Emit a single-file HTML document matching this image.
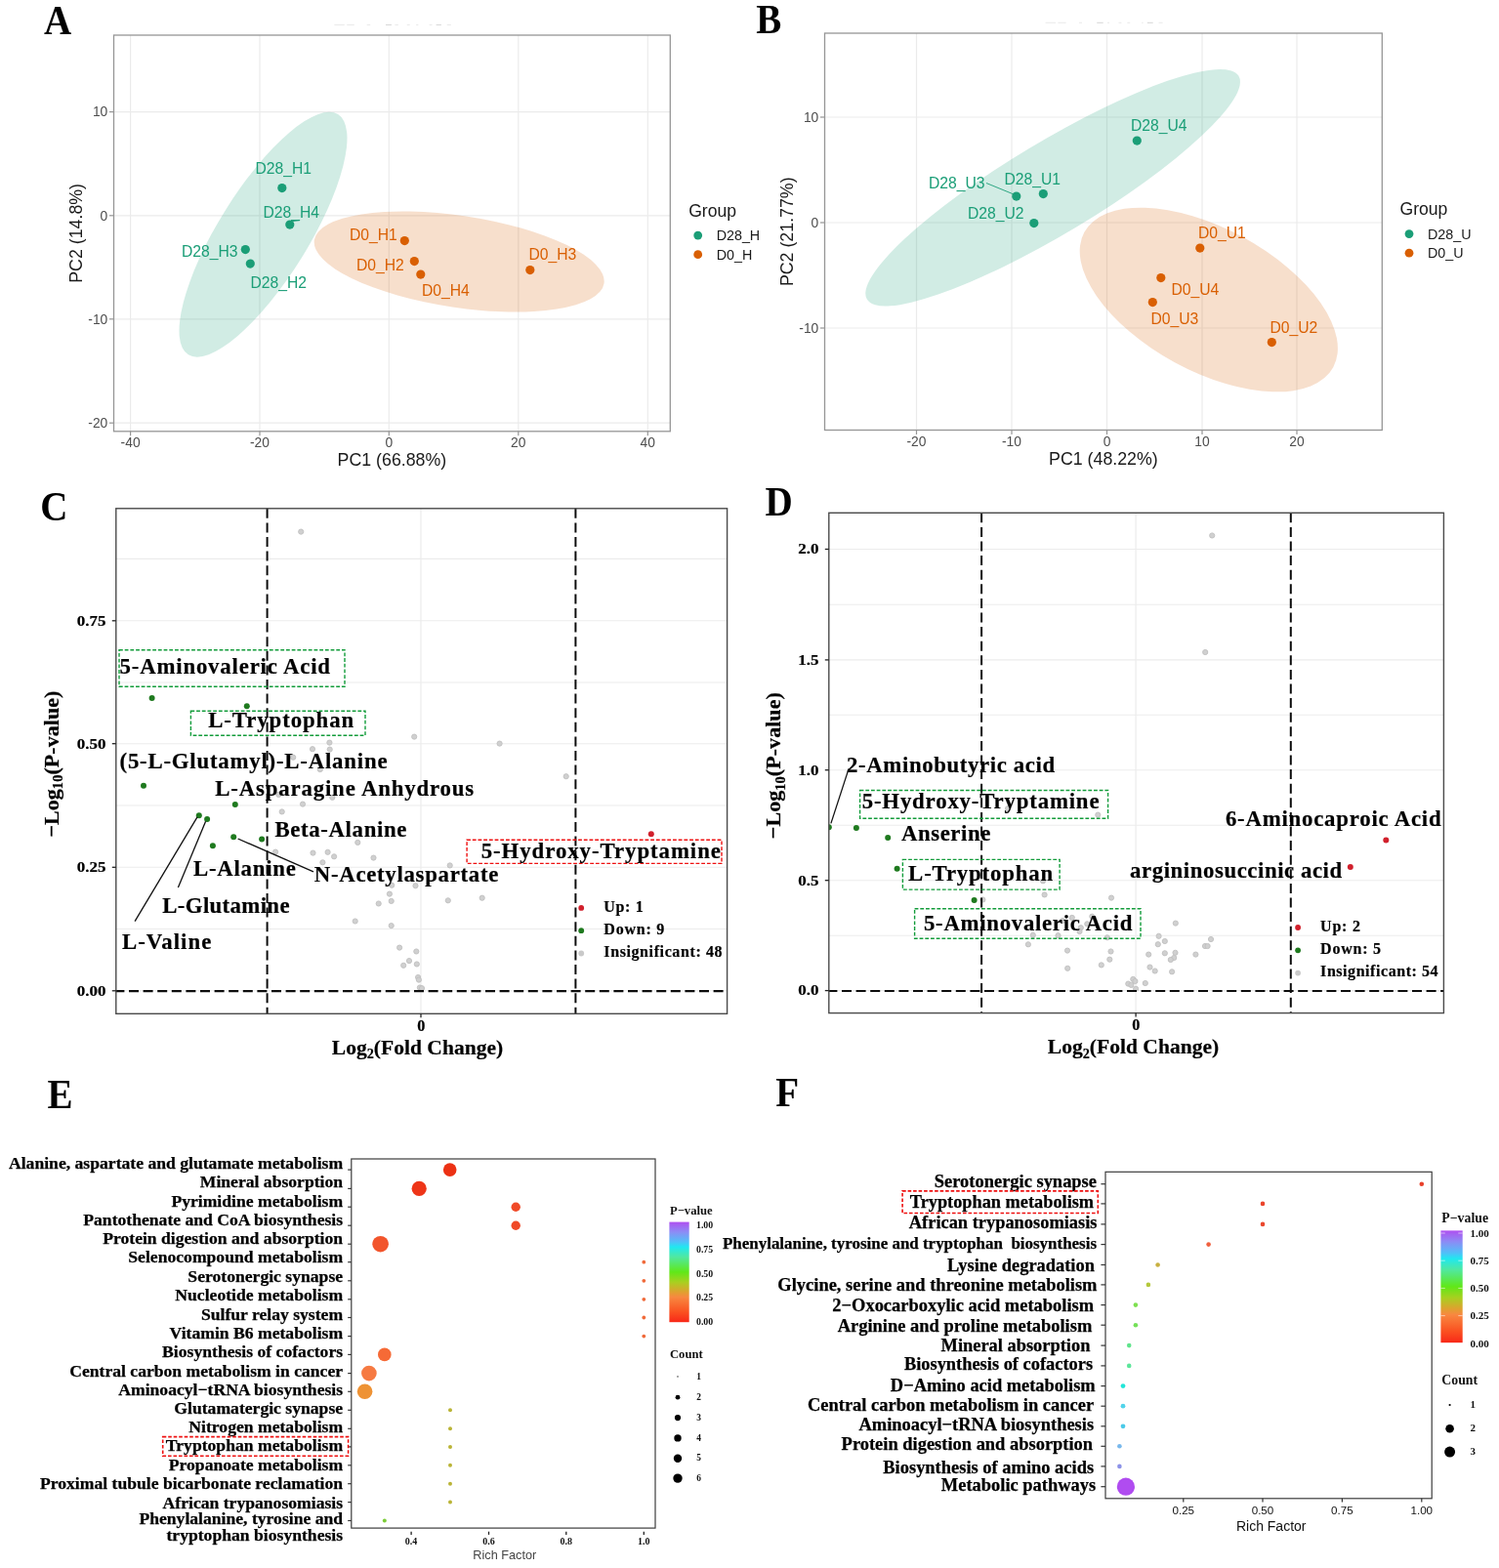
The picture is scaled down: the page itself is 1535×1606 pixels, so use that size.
<!DOCTYPE html>
<html lang="en">
<head>
<meta charset="utf-8">
<title>Figure</title>
<style>
html,body{margin:0;padding:0;background:#fff;}
body{width:1535px;height:1606px;overflow:hidden;}
svg{display:block;}
text{font-family:"Liberation Sans",sans-serif;}
.sf{font-family:"Liberation Serif",serif;font-weight:bold;}
.ss{font-family:"Liberation Sans",sans-serif;}
.pl{font-family:"Liberation Serif",serif;font-weight:bold;font-size:42px;fill:#000;}
</style>
</head>
<body>
<svg width="1535" height="1606" viewBox="0 0 1535 1606">
<rect x="0" y="0" width="1535" height="1606" fill="#fff"/>
<line x1="342.3" y1="25.5" x2="352.8" y2="25.5" stroke="#ebebeb" stroke-width="1.1"/>
<line x1="355.2" y1="25.5" x2="362.8" y2="25.5" stroke="#ebebeb" stroke-width="1.1"/>
<line x1="375.7" y1="25.5" x2="379.2" y2="25.5" stroke="#ebebeb" stroke-width="1.1"/>
<line x1="395" y1="25.5" x2="400.9" y2="25.5" stroke="#d9d9d9" stroke-width="1.1"/>
<line x1="404.4" y1="25.5" x2="407.9" y2="25.5" stroke="#ebebeb" stroke-width="1.1"/>
<line x1="416.7" y1="25.5" x2="419.7" y2="25.5" stroke="#ebebeb" stroke-width="1.1"/>
<line x1="426.1" y1="25.5" x2="428.4" y2="25.5" stroke="#ebebeb" stroke-width="1.1"/>
<line x1="439.6" y1="25.5" x2="442.5" y2="25.5" stroke="#ebebeb" stroke-width="1.1"/>
<line x1="446.6" y1="25.5" x2="451.9" y2="25.5" stroke="#d9d9d9" stroke-width="1.1"/>
<line x1="457.7" y1="25.5" x2="461.9" y2="25.5" stroke="#ebebeb" stroke-width="1.1"/>
<g>
<line x1="133.6" y1="36" x2="133.6" y2="441.8" stroke="#ebebeb" stroke-width="1.2"/>
<line x1="266" y1="36" x2="266" y2="441.8" stroke="#ebebeb" stroke-width="1.2"/>
<line x1="398.3" y1="36" x2="398.3" y2="441.8" stroke="#ebebeb" stroke-width="1.2"/>
<line x1="530.8" y1="36" x2="530.8" y2="441.8" stroke="#ebebeb" stroke-width="1.2"/>
<line x1="663.3" y1="36" x2="663.3" y2="441.8" stroke="#ebebeb" stroke-width="1.2"/>
<line x1="116.5" y1="114.6" x2="686.3" y2="114.6" stroke="#ebebeb" stroke-width="1.2"/>
<line x1="116.5" y1="220.8" x2="686.3" y2="220.8" stroke="#ebebeb" stroke-width="1.2"/>
<line x1="116.5" y1="326.8" x2="686.3" y2="326.8" stroke="#ebebeb" stroke-width="1.2"/>
<line x1="116.5" y1="433.2" x2="686.3" y2="433.2" stroke="#ebebeb" stroke-width="1.2"/>
<ellipse cx="269.5" cy="240.2" rx="145" ry="46" transform="rotate(-58.1 269.5 240.2)" fill="#1b9e77" fill-opacity="0.2"/>
<ellipse cx="470.2" cy="268" rx="150" ry="47" transform="rotate(8.5 470.2 268)" fill="#d95f02" fill-opacity="0.2"/>
<line x1="297" y1="227" x2="307" y2="225.5" stroke="#1b9e77" stroke-width="0.9"/>
<circle cx="288.8" cy="192.6" r="4.6" fill="#1b9e77"/>
<circle cx="296.8" cy="230.1" r="4.6" fill="#1b9e77"/>
<circle cx="251.3" cy="255.6" r="4.6" fill="#1b9e77"/>
<circle cx="256.3" cy="270.1" r="4.6" fill="#1b9e77"/>
<circle cx="414.3" cy="246.6" r="4.6" fill="#d95f02"/>
<circle cx="424.3" cy="267.6" r="4.6" fill="#d95f02"/>
<circle cx="430.8" cy="281.1" r="4.6" fill="#d95f02"/>
<circle cx="542.8" cy="276.6" r="4.6" fill="#d95f02"/>
<text x="261.5" y="178.2" font-size="15.7" fill="#1b9e77">D28_H1</text>
<text x="269.5" y="223.2" font-size="15.7" fill="#1b9e77">D28_H4</text>
<text x="186" y="262.7" font-size="15.7" fill="#1b9e77">D28_H3</text>
<text x="256.5" y="295.2" font-size="15.7" fill="#1b9e77">D28_H2</text>
<text x="358" y="245.7" font-size="15.7" fill="#d95f02">D0_H1</text>
<text x="365" y="277.2" font-size="15.7" fill="#d95f02">D0_H2</text>
<text x="432" y="303.2" font-size="15.7" fill="#d95f02">D0_H4</text>
<text x="541.5" y="266.2" font-size="15.7" fill="#d95f02">D0_H3</text>
<rect x="116.5" y="36" width="569.8" height="405.8" fill="none" stroke="#969696" stroke-width="1.3"/>
<line x1="133.6" y1="441.8" x2="133.6" y2="446.3" stroke="#969696" stroke-width="1.2"/>
<text x="133.6" y="458.3" text-anchor="middle" font-size="13.8" fill="#4d4d4d">-40</text>
<line x1="266" y1="441.8" x2="266" y2="446.3" stroke="#969696" stroke-width="1.2"/>
<text x="266" y="458.3" text-anchor="middle" font-size="13.8" fill="#4d4d4d">-20</text>
<line x1="398.3" y1="441.8" x2="398.3" y2="446.3" stroke="#969696" stroke-width="1.2"/>
<text x="398.3" y="458.3" text-anchor="middle" font-size="13.8" fill="#4d4d4d">0</text>
<line x1="530.8" y1="441.8" x2="530.8" y2="446.3" stroke="#969696" stroke-width="1.2"/>
<text x="530.8" y="458.3" text-anchor="middle" font-size="13.8" fill="#4d4d4d">20</text>
<line x1="663.3" y1="441.8" x2="663.3" y2="446.3" stroke="#969696" stroke-width="1.2"/>
<text x="663.3" y="458.3" text-anchor="middle" font-size="13.8" fill="#4d4d4d">40</text>
<line x1="112" y1="114.6" x2="116.5" y2="114.6" stroke="#969696" stroke-width="1.2"/>
<text x="110.3" y="119.3" text-anchor="end" font-size="13.8" fill="#4d4d4d">10</text>
<line x1="112" y1="220.8" x2="116.5" y2="220.8" stroke="#969696" stroke-width="1.2"/>
<text x="110.3" y="225.5" text-anchor="end" font-size="13.8" fill="#4d4d4d">0</text>
<line x1="112" y1="326.8" x2="116.5" y2="326.8" stroke="#969696" stroke-width="1.2"/>
<text x="110.3" y="331.5" text-anchor="end" font-size="13.8" fill="#4d4d4d">-10</text>
<line x1="112" y1="433.2" x2="116.5" y2="433.2" stroke="#969696" stroke-width="1.2"/>
<text x="110.3" y="437.9" text-anchor="end" font-size="13.8" fill="#4d4d4d">-20</text>
<text x="401.4" y="477.3" text-anchor="middle" font-size="17.8" fill="#1a1a1a">PC1 (66.88%)</text>
<text transform="translate(83.5 238.9) rotate(-90)" text-anchor="middle" font-size="17.8" fill="#1a1a1a">PC2 (14.8%)</text>
<text x="705.2" y="221.5" font-size="17.6" fill="#1a1a1a">Group</text>
<circle cx="714.7" cy="241.1" r="4.4" fill="#1b9e77"/>
<text x="733.7" y="246.3" font-size="14.3" fill="#1a1a1a">D28_H</text>
<circle cx="714.7" cy="260.7" r="4.4" fill="#d95f02"/>
<text x="733.7" y="265.9" font-size="14.3" fill="#1a1a1a">D0_H</text>
<text transform="translate(45 34.8) scale(0.93 1)" class="pl">A</text>
</g>
<line x1="1070.5" y1="23.3" x2="1081" y2="23.3" stroke="#ebebeb" stroke-width="1.1"/>
<line x1="1083.4" y1="23.3" x2="1091.6" y2="23.3" stroke="#ebebeb" stroke-width="1.1"/>
<line x1="1105" y1="23.3" x2="1108" y2="23.3" stroke="#ebebeb" stroke-width="1.1"/>
<line x1="1123.2" y1="23.3" x2="1129.7" y2="23.3" stroke="#d9d9d9" stroke-width="1.1"/>
<line x1="1133.8" y1="23.3" x2="1136.1" y2="23.3" stroke="#ebebeb" stroke-width="1.1"/>
<line x1="1145.5" y1="23.3" x2="1148.4" y2="23.3" stroke="#ebebeb" stroke-width="1.1"/>
<line x1="1154.3" y1="23.3" x2="1157.2" y2="23.3" stroke="#ebebeb" stroke-width="1.1"/>
<line x1="1169" y1="23.3" x2="1170.7" y2="23.3" stroke="#ebebeb" stroke-width="1.1"/>
<line x1="1174.8" y1="23.3" x2="1180.7" y2="23.3" stroke="#d9d9d9" stroke-width="1.1"/>
<line x1="1186.5" y1="23.3" x2="1190.6" y2="23.3" stroke="#ebebeb" stroke-width="1.1"/>
<g>
<line x1="938.5" y1="34" x2="938.5" y2="440.5" stroke="#ebebeb" stroke-width="1.2"/>
<line x1="1036" y1="34" x2="1036" y2="440.5" stroke="#ebebeb" stroke-width="1.2"/>
<line x1="1133.5" y1="34" x2="1133.5" y2="440.5" stroke="#ebebeb" stroke-width="1.2"/>
<line x1="1231" y1="34" x2="1231" y2="440.5" stroke="#ebebeb" stroke-width="1.2"/>
<line x1="1328" y1="34" x2="1328" y2="440.5" stroke="#ebebeb" stroke-width="1.2"/>
<line x1="844.5" y1="120" x2="1415.3" y2="120" stroke="#ebebeb" stroke-width="1.2"/>
<line x1="844.5" y1="228" x2="1415.3" y2="228" stroke="#ebebeb" stroke-width="1.2"/>
<line x1="844.5" y1="336" x2="1415.3" y2="336" stroke="#ebebeb" stroke-width="1.2"/>
<ellipse cx="1078.1" cy="192.2" rx="222" ry="47" transform="rotate(-31 1078.1 192.2)" fill="#1b9e77" fill-opacity="0.2"/>
<ellipse cx="1237.8" cy="307" rx="145" ry="73" transform="rotate(28.5 1237.8 307)" fill="#d95f02" fill-opacity="0.2"/>
<line x1="1010" y1="187.5" x2="1038" y2="199" stroke="#1b9e77" stroke-width="0.9"/>
<circle cx="1164.3" cy="144.1" r="4.6" fill="#1b9e77"/>
<circle cx="1040.8" cy="201.1" r="4.6" fill="#1b9e77"/>
<circle cx="1068.3" cy="198.6" r="4.6" fill="#1b9e77"/>
<circle cx="1058.8" cy="228.6" r="4.6" fill="#1b9e77"/>
<circle cx="1228.8" cy="254.1" r="4.6" fill="#d95f02"/>
<circle cx="1188.8" cy="284.6" r="4.6" fill="#d95f02"/>
<circle cx="1180.3" cy="309.6" r="4.6" fill="#d95f02"/>
<circle cx="1302.3" cy="350.6" r="4.6" fill="#d95f02"/>
<text x="1158" y="133.7" font-size="15.7" fill="#1b9e77">D28_U4</text>
<text x="1028.5" y="188.7" font-size="15.7" fill="#1b9e77">D28_U1</text>
<text x="951" y="192.7" font-size="15.7" fill="#1b9e77">D28_U3</text>
<text x="991" y="223.7" font-size="15.7" fill="#1b9e77">D28_U2</text>
<text x="1227" y="244.2" font-size="15.7" fill="#d95f02">D0_U1</text>
<text x="1199.5" y="301.7" font-size="15.7" fill="#d95f02">D0_U4</text>
<text x="1178.5" y="331.7" font-size="15.7" fill="#d95f02">D0_U3</text>
<text x="1300.5" y="340.7" font-size="15.7" fill="#d95f02">D0_U2</text>
<rect x="844.5" y="34" width="570.8" height="406.5" fill="none" stroke="#969696" stroke-width="1.3"/>
<line x1="938.5" y1="440.5" x2="938.5" y2="445" stroke="#969696" stroke-width="1.2"/>
<text x="938.5" y="457" text-anchor="middle" font-size="13.8" fill="#4d4d4d">-20</text>
<line x1="1036" y1="440.5" x2="1036" y2="445" stroke="#969696" stroke-width="1.2"/>
<text x="1036" y="457" text-anchor="middle" font-size="13.8" fill="#4d4d4d">-10</text>
<line x1="1133.5" y1="440.5" x2="1133.5" y2="445" stroke="#969696" stroke-width="1.2"/>
<text x="1133.5" y="457" text-anchor="middle" font-size="13.8" fill="#4d4d4d">0</text>
<line x1="1231" y1="440.5" x2="1231" y2="445" stroke="#969696" stroke-width="1.2"/>
<text x="1231" y="457" text-anchor="middle" font-size="13.8" fill="#4d4d4d">10</text>
<line x1="1328" y1="440.5" x2="1328" y2="445" stroke="#969696" stroke-width="1.2"/>
<text x="1328" y="457" text-anchor="middle" font-size="13.8" fill="#4d4d4d">20</text>
<line x1="840" y1="120" x2="844.5" y2="120" stroke="#969696" stroke-width="1.2"/>
<text x="838.3" y="124.7" text-anchor="end" font-size="13.8" fill="#4d4d4d">10</text>
<line x1="840" y1="228" x2="844.5" y2="228" stroke="#969696" stroke-width="1.2"/>
<text x="838.3" y="232.7" text-anchor="end" font-size="13.8" fill="#4d4d4d">0</text>
<line x1="840" y1="336" x2="844.5" y2="336" stroke="#969696" stroke-width="1.2"/>
<text x="838.3" y="340.7" text-anchor="end" font-size="13.8" fill="#4d4d4d">-10</text>
<text x="1129.9" y="476" text-anchor="middle" font-size="17.8" fill="#1a1a1a">PC1 (48.22%)</text>
<text transform="translate(812 237.25) rotate(-90)" text-anchor="middle" font-size="17.8" fill="#1a1a1a">PC2 (21.77%)</text>
<text x="1433.5" y="220" font-size="17.6" fill="#1a1a1a">Group</text>
<circle cx="1443" cy="239.6" r="4.4" fill="#1b9e77"/>
<text x="1462" y="244.8" font-size="14.3" fill="#1a1a1a">D28_U</text>
<circle cx="1443" cy="259.2" r="4.4" fill="#d95f02"/>
<text x="1462" y="264.4" font-size="14.3" fill="#1a1a1a">D0_U</text>
<text transform="translate(774.2 33.8) scale(0.93 1)" class="pl">B</text>
</g>
<g>
<line x1="118.8" y1="572.4" x2="744.6" y2="572.4" stroke="#ececec" stroke-width="1.1"/>
<line x1="118.8" y1="699" x2="744.6" y2="699" stroke="#ececec" stroke-width="1.1"/>
<line x1="118.8" y1="825" x2="744.6" y2="825" stroke="#ececec" stroke-width="1.1"/>
<line x1="118.8" y1="951.5" x2="744.6" y2="951.5" stroke="#ececec" stroke-width="1.1"/>
<line x1="118.8" y1="635.8" x2="744.6" y2="635.8" stroke="#ececec" stroke-width="1.1"/>
<line x1="118.8" y1="761.7" x2="744.6" y2="761.7" stroke="#ececec" stroke-width="1.1"/>
<line x1="118.8" y1="888.3" x2="744.6" y2="888.3" stroke="#ececec" stroke-width="1.1"/>
<line x1="118.8" y1="1014.8" x2="744.6" y2="1014.8" stroke="#ececec" stroke-width="1.1"/>
<line x1="431" y1="520.8" x2="431" y2="1038.3" stroke="#ececec" stroke-width="1.2"/>
<circle cx="308.2" cy="544.6" r="2.6" fill="#d0d0d0" stroke="#bfbfbf" stroke-width="0.9"/>
<circle cx="424.2" cy="754.6" r="2.6" fill="#d0d0d0" stroke="#bfbfbf" stroke-width="0.9"/>
<circle cx="511.6" cy="761.6" r="2.6" fill="#d0d0d0" stroke="#bfbfbf" stroke-width="0.9"/>
<circle cx="337.4" cy="760.6" r="2.6" fill="#d0d0d0" stroke="#bfbfbf" stroke-width="0.9"/>
<circle cx="320" cy="767.2" r="2.6" fill="#d0d0d0" stroke="#bfbfbf" stroke-width="0.9"/>
<circle cx="337.7" cy="767.6" r="2.6" fill="#d0d0d0" stroke="#bfbfbf" stroke-width="0.9"/>
<circle cx="300.2" cy="775.7" r="2.6" fill="#d0d0d0" stroke="#bfbfbf" stroke-width="0.9"/>
<circle cx="327.8" cy="788.1" r="2.6" fill="#d0d0d0" stroke="#bfbfbf" stroke-width="0.9"/>
<circle cx="579.7" cy="795.2" r="2.6" fill="#d0d0d0" stroke="#bfbfbf" stroke-width="0.9"/>
<circle cx="285.3" cy="813.9" r="2.6" fill="#d0d0d0" stroke="#bfbfbf" stroke-width="0.9"/>
<circle cx="340.3" cy="816.8" r="2.6" fill="#d0d0d0" stroke="#bfbfbf" stroke-width="0.9"/>
<circle cx="310" cy="823.6" r="2.6" fill="#d0d0d0" stroke="#bfbfbf" stroke-width="0.9"/>
<circle cx="288.7" cy="831.4" r="2.6" fill="#d0d0d0" stroke="#bfbfbf" stroke-width="0.9"/>
<circle cx="366.3" cy="862.9" r="2.6" fill="#d0d0d0" stroke="#bfbfbf" stroke-width="0.9"/>
<circle cx="282.1" cy="872.6" r="2.6" fill="#d0d0d0" stroke="#bfbfbf" stroke-width="0.9"/>
<circle cx="320.5" cy="873.6" r="2.6" fill="#d0d0d0" stroke="#bfbfbf" stroke-width="0.9"/>
<circle cx="335.6" cy="872.8" r="2.6" fill="#d0d0d0" stroke="#bfbfbf" stroke-width="0.9"/>
<circle cx="342.1" cy="877.3" r="2.6" fill="#d0d0d0" stroke="#bfbfbf" stroke-width="0.9"/>
<circle cx="382.5" cy="878.6" r="2.6" fill="#d0d0d0" stroke="#bfbfbf" stroke-width="0.9"/>
<circle cx="330.4" cy="883.3" r="2.6" fill="#d0d0d0" stroke="#bfbfbf" stroke-width="0.9"/>
<circle cx="460.7" cy="886.4" r="2.6" fill="#d0d0d0" stroke="#bfbfbf" stroke-width="0.9"/>
<circle cx="401.2" cy="906.7" r="2.6" fill="#d0d0d0" stroke="#bfbfbf" stroke-width="0.9"/>
<circle cx="425.5" cy="907.2" r="2.6" fill="#d0d0d0" stroke="#bfbfbf" stroke-width="0.9"/>
<circle cx="398.9" cy="915.6" r="2.6" fill="#d0d0d0" stroke="#bfbfbf" stroke-width="0.9"/>
<circle cx="400.7" cy="922.9" r="2.6" fill="#d0d0d0" stroke="#bfbfbf" stroke-width="0.9"/>
<circle cx="387.7" cy="925.5" r="2.6" fill="#d0d0d0" stroke="#bfbfbf" stroke-width="0.9"/>
<circle cx="458.8" cy="922.3" r="2.6" fill="#d0d0d0" stroke="#bfbfbf" stroke-width="0.9"/>
<circle cx="493.7" cy="919.7" r="2.6" fill="#d0d0d0" stroke="#bfbfbf" stroke-width="0.9"/>
<circle cx="363.7" cy="943.5" r="2.6" fill="#d0d0d0" stroke="#bfbfbf" stroke-width="0.9"/>
<circle cx="400.7" cy="948.1" r="2.6" fill="#d0d0d0" stroke="#bfbfbf" stroke-width="0.9"/>
<circle cx="409.1" cy="970.6" r="2.6" fill="#d0d0d0" stroke="#bfbfbf" stroke-width="0.9"/>
<circle cx="426.3" cy="974.5" r="2.6" fill="#d0d0d0" stroke="#bfbfbf" stroke-width="0.9"/>
<circle cx="419" cy="984.1" r="2.6" fill="#d0d0d0" stroke="#bfbfbf" stroke-width="0.9"/>
<circle cx="413.2" cy="988.8" r="2.6" fill="#d0d0d0" stroke="#bfbfbf" stroke-width="0.9"/>
<circle cx="426.8" cy="987.5" r="2.6" fill="#d0d0d0" stroke="#bfbfbf" stroke-width="0.9"/>
<circle cx="428.1" cy="1001" r="2.6" fill="#d0d0d0" stroke="#bfbfbf" stroke-width="0.9"/>
<circle cx="428.9" cy="1003.6" r="2.6" fill="#d0d0d0" stroke="#bfbfbf" stroke-width="0.9"/>
<circle cx="429.9" cy="1011.5" r="2.6" fill="#d0d0d0" stroke="#bfbfbf" stroke-width="0.9"/>
<circle cx="432" cy="1012.2" r="2.6" fill="#d0d0d0" stroke="#bfbfbf" stroke-width="0.9"/>
<line x1="273.6" y1="520.8" x2="273.6" y2="1038.3" stroke="#0d0d0d" stroke-width="2" stroke-dasharray="10 4.6" stroke-dashoffset="0"/>
<line x1="589.4" y1="520.8" x2="589.4" y2="1038.3" stroke="#0d0d0d" stroke-width="2" stroke-dasharray="10 4.6" stroke-dashoffset="0"/>
<line x1="118.8" y1="1015.2" x2="744.6" y2="1015.2" stroke="#0d0d0d" stroke-width="2.2" stroke-dasharray="10 4.6" stroke-dashoffset="1.4"/>
<circle cx="155.6" cy="715" r="3" fill="#1f7a1f"/>
<circle cx="252.8" cy="723.3" r="3" fill="#1f7a1f"/>
<circle cx="147" cy="804.8" r="3" fill="#1f7a1f"/>
<circle cx="240.8" cy="824.1" r="3" fill="#1f7a1f"/>
<circle cx="203.8" cy="835.3" r="3" fill="#1f7a1f"/>
<circle cx="212.1" cy="839" r="3" fill="#1f7a1f"/>
<circle cx="217.9" cy="866.3" r="3" fill="#1f7a1f"/>
<circle cx="239.2" cy="857.2" r="3" fill="#1f7a1f"/>
<circle cx="268.1" cy="859.5" r="3" fill="#1f7a1f"/>
<circle cx="666.8" cy="854.3" r="3" fill="#d1202c"/>
<line x1="202" y1="836.9" x2="138.1" y2="943.7" stroke="#111" stroke-width="1.3"/>
<line x1="210.6" y1="841.3" x2="182.4" y2="909" stroke="#111" stroke-width="1.3"/>
<line x1="243.6" y1="859" x2="321" y2="892.9" stroke="#111" stroke-width="1.3"/>
<rect x="122" y="665.7" width="231" height="37.6" fill="none" stroke="#129c3a" stroke-width="1.4" stroke-dasharray="3.8 1.9"/>
<rect x="195.4" y="728.3" width="178.6" height="25" fill="none" stroke="#129c3a" stroke-width="1.4" stroke-dasharray="3.8 1.9"/>
<rect x="478.1" y="860.2" width="260.9" height="24.2" fill="none" stroke="#ee1010" stroke-width="1.4" stroke-dasharray="3.8 1.9"/>
<text x="122.5" y="689.7" class="sf" font-size="22.8" textLength="215.5" lengthAdjust="spacing" fill="#000" stroke="#000" stroke-width="0.2">5-Aminovaleric Acid</text>
<text x="213.2" y="745" class="sf" font-size="22.8" textLength="149" lengthAdjust="spacing" fill="#000" stroke="#000" stroke-width="0.2">L-Tryptophan</text>
<text x="122.5" y="786.8" class="sf" font-size="22.8" textLength="274" lengthAdjust="spacing" fill="#000" stroke="#000" stroke-width="0.2">(5-L-Glutamyl)-L-Alanine</text>
<text x="220.2" y="814.7" class="sf" font-size="22.8" textLength="265" lengthAdjust="spacing" fill="#000" stroke="#000" stroke-width="0.2">L-Asparagine Anhydrous</text>
<text x="281.4" y="857" class="sf" font-size="22.8" textLength="135" lengthAdjust="spacing" fill="#000" stroke="#000" stroke-width="0.2">Beta-Alanine</text>
<text x="198" y="897.3" class="sf" font-size="22.8" textLength="104.8" lengthAdjust="spacing" fill="#000" stroke="#000" stroke-width="0.2">L-Alanine</text>
<text x="321.8" y="902.5" class="sf" font-size="22.8" textLength="188.5" lengthAdjust="spacing" fill="#000" stroke="#000" stroke-width="0.2">N-Acetylaspartate</text>
<text x="166.3" y="935" class="sf" font-size="22.8" textLength="130.2" lengthAdjust="spacing" fill="#000" stroke="#000" stroke-width="0.2">L-Glutamine</text>
<text x="125" y="972.4" class="sf" font-size="22.8" textLength="91.3" lengthAdjust="spacing" fill="#000" stroke="#000" stroke-width="0.2">L-Valine</text>
<text x="492.7" y="878.6" class="sf" font-size="22.8" textLength="245.2" lengthAdjust="spacing" fill="#000" stroke="#000" stroke-width="0.2">5-Hydroxy-Tryptamine</text>
<rect x="118.8" y="520.8" width="625.8" height="517.5" fill="none" stroke="#4a4a4a" stroke-width="1.4"/>
<line x1="114.8" y1="635.8" x2="118.8" y2="635.8" stroke="#222" stroke-width="1.3"/>
<text x="108.5" y="640.6" class="sf" font-size="15.6" text-anchor="end" textLength="29.75" lengthAdjust="spacingAndGlyphs" fill="#000" stroke="#000" stroke-width="0.2">0.75</text>
<line x1="114.8" y1="761.7" x2="118.8" y2="761.7" stroke="#222" stroke-width="1.3"/>
<text x="108.5" y="766.5" class="sf" font-size="15.6" text-anchor="end" textLength="29.75" lengthAdjust="spacingAndGlyphs" fill="#000" stroke="#000" stroke-width="0.2">0.50</text>
<line x1="114.8" y1="888.3" x2="118.8" y2="888.3" stroke="#222" stroke-width="1.3"/>
<text x="108.5" y="893.1" class="sf" font-size="15.6" text-anchor="end" textLength="29.75" lengthAdjust="spacingAndGlyphs" fill="#000" stroke="#000" stroke-width="0.2">0.25</text>
<line x1="114.8" y1="1014.8" x2="118.8" y2="1014.8" stroke="#222" stroke-width="1.3"/>
<text x="108.5" y="1019.6" class="sf" font-size="15.6" text-anchor="end" textLength="29.75" lengthAdjust="spacingAndGlyphs" fill="#000" stroke="#000" stroke-width="0.2">0.00</text>
<line x1="431" y1="1038.3" x2="431" y2="1042.3" stroke="#222" stroke-width="1.3"/>
<text x="431.2" y="1055.7" class="sf" font-size="16.2" text-anchor="middle" fill="#000" stroke="#000" stroke-width="0.2">0</text>
<text x="427.5" y="1079.6" class="sf" font-size="21.5" text-anchor="middle" textLength="175.3" lengthAdjust="spacing" fill="#000" stroke="#000" stroke-width="0.2">Log<tspan font-size="14.2" dy="4.4">2</tspan><tspan dy="-4.4">(Fold Change)</tspan></text>
<text transform="translate(59.6 782.6) rotate(-90)" class="sf" font-size="22" text-anchor="middle" textLength="150" lengthAdjust="spacing" fill="#000" stroke="#000" stroke-width="0.2">−Log<tspan font-size="14.5" dy="4.5">10</tspan><tspan dy="-4.5">(P-value)</tspan></text>
<circle cx="595.2" cy="929.9" r="2.9" fill="#d1202c"/>
<text x="618.3" y="933.6" class="sf" font-size="16" textLength="40.5" lengthAdjust="spacing" fill="#000" stroke="#000" stroke-width="0.2">Up: 1</text>
<circle cx="595.2" cy="953.2" r="2.9" fill="#1f7a1f"/>
<text x="618.3" y="956.9" class="sf" font-size="16" textLength="62" lengthAdjust="spacing" fill="#000" stroke="#000" stroke-width="0.2">Down: 9</text>
<circle cx="595.2" cy="976.5" r="2.9" fill="#c9c9c9"/>
<text x="618.3" y="980.2" class="sf" font-size="16" textLength="121.2" lengthAdjust="spacing" fill="#000" stroke="#000" stroke-width="0.2">Insignificant: 48</text>
<text transform="translate(41.2 533.2) scale(0.93 1)" class="pl">C</text>
</g>
<g>
<line x1="848.8" y1="619.3" x2="1478.4" y2="619.3" stroke="#ececec" stroke-width="1.1"/>
<line x1="848.8" y1="732.3" x2="1478.4" y2="732.3" stroke="#ececec" stroke-width="1.1"/>
<line x1="848.8" y1="845.2" x2="1478.4" y2="845.2" stroke="#ececec" stroke-width="1.1"/>
<line x1="848.8" y1="958.2" x2="1478.4" y2="958.2" stroke="#ececec" stroke-width="1.1"/>
<line x1="848.8" y1="562.5" x2="1478.4" y2="562.5" stroke="#ececec" stroke-width="1.1"/>
<line x1="848.8" y1="675.9" x2="1478.4" y2="675.9" stroke="#ececec" stroke-width="1.1"/>
<line x1="848.8" y1="788.7" x2="1478.4" y2="788.7" stroke="#ececec" stroke-width="1.1"/>
<line x1="848.8" y1="901.7" x2="1478.4" y2="901.7" stroke="#ececec" stroke-width="1.1"/>
<line x1="848.8" y1="1014.6" x2="1478.4" y2="1014.6" stroke="#ececec" stroke-width="1.1"/>
<line x1="1163.1" y1="525.3" x2="1163.1" y2="1037.6" stroke="#ececec" stroke-width="1.2"/>
<circle cx="1241.2" cy="548.5" r="2.6" fill="#d0d0d0" stroke="#bfbfbf" stroke-width="0.9"/>
<circle cx="1234.2" cy="668" r="2.6" fill="#d0d0d0" stroke="#bfbfbf" stroke-width="0.9"/>
<circle cx="1124.3" cy="834.6" r="2.6" fill="#d0d0d0" stroke="#bfbfbf" stroke-width="0.9"/>
<circle cx="1032" cy="828.2" r="2.6" fill="#d0d0d0" stroke="#bfbfbf" stroke-width="0.9"/>
<circle cx="1006.4" cy="921.5" r="2.6" fill="#d0d0d0" stroke="#bfbfbf" stroke-width="0.9"/>
<circle cx="1068" cy="902.3" r="2.6" fill="#d0d0d0" stroke="#bfbfbf" stroke-width="0.9"/>
<circle cx="1069.6" cy="916.4" r="2.6" fill="#d0d0d0" stroke="#bfbfbf" stroke-width="0.9"/>
<circle cx="1138" cy="919.6" r="2.6" fill="#d0d0d0" stroke="#bfbfbf" stroke-width="0.9"/>
<circle cx="1203.8" cy="945.6" r="2.6" fill="#d0d0d0" stroke="#bfbfbf" stroke-width="0.9"/>
<circle cx="1097.8" cy="939.9" r="2.6" fill="#d0d0d0" stroke="#bfbfbf" stroke-width="0.9"/>
<circle cx="1118.3" cy="938.7" r="2.6" fill="#d0d0d0" stroke="#bfbfbf" stroke-width="0.9"/>
<circle cx="1113.3" cy="946.3" r="2.6" fill="#d0d0d0" stroke="#bfbfbf" stroke-width="0.9"/>
<circle cx="1106.8" cy="950.2" r="2.6" fill="#d0d0d0" stroke="#bfbfbf" stroke-width="0.9"/>
<circle cx="1105.5" cy="954.1" r="2.6" fill="#d0d0d0" stroke="#bfbfbf" stroke-width="0.9"/>
<circle cx="1088" cy="943" r="2.6" fill="#d0d0d0" stroke="#bfbfbf" stroke-width="0.9"/>
<circle cx="1057.8" cy="957.8" r="2.6" fill="#d0d0d0" stroke="#bfbfbf" stroke-width="0.9"/>
<circle cx="1083.5" cy="958.2" r="2.6" fill="#d0d0d0" stroke="#bfbfbf" stroke-width="0.9"/>
<circle cx="1133.8" cy="960.3" r="2.6" fill="#d0d0d0" stroke="#bfbfbf" stroke-width="0.9"/>
<circle cx="1052.9" cy="967.3" r="2.6" fill="#d0d0d0" stroke="#bfbfbf" stroke-width="0.9"/>
<circle cx="1093" cy="973.6" r="2.6" fill="#d0d0d0" stroke="#bfbfbf" stroke-width="0.9"/>
<circle cx="1137.5" cy="974.5" r="2.6" fill="#d0d0d0" stroke="#bfbfbf" stroke-width="0.9"/>
<circle cx="1136.3" cy="982.7" r="2.6" fill="#d0d0d0" stroke="#bfbfbf" stroke-width="0.9"/>
<circle cx="1127.8" cy="988.4" r="2.6" fill="#d0d0d0" stroke="#bfbfbf" stroke-width="0.9"/>
<circle cx="1093.2" cy="991.8" r="2.6" fill="#d0d0d0" stroke="#bfbfbf" stroke-width="0.9"/>
<circle cx="1186.6" cy="958.8" r="2.6" fill="#d0d0d0" stroke="#bfbfbf" stroke-width="0.9"/>
<circle cx="1192.8" cy="964" r="2.6" fill="#d0d0d0" stroke="#bfbfbf" stroke-width="0.9"/>
<circle cx="1185.8" cy="967.2" r="2.6" fill="#d0d0d0" stroke="#bfbfbf" stroke-width="0.9"/>
<circle cx="1240" cy="962" r="2.6" fill="#d0d0d0" stroke="#bfbfbf" stroke-width="0.9"/>
<circle cx="1234" cy="969" r="2.6" fill="#d0d0d0" stroke="#bfbfbf" stroke-width="0.9"/>
<circle cx="1236.6" cy="969" r="2.6" fill="#d0d0d0" stroke="#bfbfbf" stroke-width="0.9"/>
<circle cx="1224.4" cy="977.6" r="2.6" fill="#d0d0d0" stroke="#bfbfbf" stroke-width="0.9"/>
<circle cx="1203.5" cy="975.8" r="2.6" fill="#d0d0d0" stroke="#bfbfbf" stroke-width="0.9"/>
<circle cx="1192.8" cy="976.3" r="2.6" fill="#d0d0d0" stroke="#bfbfbf" stroke-width="0.9"/>
<circle cx="1176.2" cy="977.6" r="2.6" fill="#d0d0d0" stroke="#bfbfbf" stroke-width="0.9"/>
<circle cx="1202.2" cy="981" r="2.6" fill="#d0d0d0" stroke="#bfbfbf" stroke-width="0.9"/>
<circle cx="1198.8" cy="983" r="2.6" fill="#d0d0d0" stroke="#bfbfbf" stroke-width="0.9"/>
<circle cx="1177.5" cy="990.6" r="2.6" fill="#d0d0d0" stroke="#bfbfbf" stroke-width="0.9"/>
<circle cx="1182.7" cy="994.5" r="2.6" fill="#d0d0d0" stroke="#bfbfbf" stroke-width="0.9"/>
<circle cx="1200.1" cy="995.3" r="2.6" fill="#d0d0d0" stroke="#bfbfbf" stroke-width="0.9"/>
<circle cx="1160.3" cy="1002.9" r="2.6" fill="#d0d0d0" stroke="#bfbfbf" stroke-width="0.9"/>
<circle cx="1162.4" cy="1005" r="2.6" fill="#d0d0d0" stroke="#bfbfbf" stroke-width="0.9"/>
<circle cx="1155.3" cy="1007.6" r="2.6" fill="#d0d0d0" stroke="#bfbfbf" stroke-width="0.9"/>
<circle cx="1158.4" cy="1008.9" r="2.6" fill="#d0d0d0" stroke="#bfbfbf" stroke-width="0.9"/>
<circle cx="1172.8" cy="1007" r="2.6" fill="#d0d0d0" stroke="#bfbfbf" stroke-width="0.9"/>
<circle cx="1163.1" cy="1012.8" r="2.6" fill="#d0d0d0" stroke="#bfbfbf" stroke-width="0.9"/>
<line x1="1005.1" y1="525.3" x2="1005.1" y2="1037.6" stroke="#0d0d0d" stroke-width="2" stroke-dasharray="10 4.6" stroke-dashoffset="0"/>
<line x1="1321.8" y1="525.3" x2="1321.8" y2="1037.6" stroke="#0d0d0d" stroke-width="2" stroke-dasharray="10 4.6" stroke-dashoffset="0"/>
<line x1="848.8" y1="1015" x2="1478.4" y2="1015" stroke="#0d0d0d" stroke-width="2.2" stroke-dasharray="10 4.6" stroke-dashoffset="1.4"/>
<path d="M848.8 844.3 a3 3 0 0 1 0 6 z" fill="#1f7a1f"/>
<circle cx="876.9" cy="848.1" r="3" fill="#1f7a1f"/>
<circle cx="909.2" cy="858" r="3" fill="#1f7a1f"/>
<circle cx="918.6" cy="889.8" r="3" fill="#1f7a1f"/>
<circle cx="997.6" cy="922.1" r="3" fill="#1f7a1f"/>
<circle cx="1419.3" cy="860.6" r="3" fill="#d1202c"/>
<circle cx="1382.8" cy="887.9" r="3" fill="#d1202c"/>
<line x1="869.1" y1="787.4" x2="850.9" y2="843.4" stroke="#111" stroke-width="1.3"/>
<rect x="880.6" y="809.5" width="254" height="28.7" fill="none" stroke="#129c3a" stroke-width="1.4" stroke-dasharray="3.8 1.9"/>
<rect x="924.4" y="880.4" width="160.7" height="30.7" fill="none" stroke="#129c3a" stroke-width="1.4" stroke-dasharray="3.8 1.9"/>
<rect x="936.6" y="930.7" width="231.4" height="30.5" fill="none" stroke="#129c3a" stroke-width="1.4" stroke-dasharray="3.8 1.9"/>
<text x="867" y="790.7" class="sf" font-size="22.8" textLength="213.2" lengthAdjust="spacing" fill="#000" stroke="#000" stroke-width="0.2">2-Aminobutyric acid</text>
<text x="882.7" y="828.3" class="sf" font-size="22.8" textLength="242.8" lengthAdjust="spacing" fill="#000" stroke="#000" stroke-width="0.2">5-Hydroxy-Tryptamine</text>
<text x="923" y="861.1" class="sf" font-size="22.8" textLength="91.3" lengthAdjust="spacing" fill="#000" stroke="#000" stroke-width="0.2">Anserine</text>
<text x="930.1" y="901.5" class="sf" font-size="22.8" textLength="148" lengthAdjust="spacing" fill="#000" stroke="#000" stroke-width="0.2">L-Tryptophan</text>
<text x="946" y="952.8" class="sf" font-size="22.8" textLength="213.4" lengthAdjust="spacing" fill="#000" stroke="#000" stroke-width="0.2">5-Aminovaleric Acid</text>
<text x="1254.9" y="846" class="sf" font-size="22.8" textLength="220.7" lengthAdjust="spacing" fill="#000" stroke="#000" stroke-width="0.2">6-Aminocaproic Acid</text>
<text x="1157.1" y="899.4" class="sf" font-size="22.8" textLength="217.1" lengthAdjust="spacing" fill="#000" stroke="#000" stroke-width="0.2">argininosuccinic acid</text>
<rect x="848.8" y="525.3" width="629.6" height="512.3" fill="none" stroke="#4a4a4a" stroke-width="1.4"/>
<line x1="844.8" y1="562.5" x2="848.8" y2="562.5" stroke="#222" stroke-width="1.3"/>
<text x="838.5" y="567.3" class="sf" font-size="15.6" text-anchor="end" textLength="21.25" lengthAdjust="spacingAndGlyphs" fill="#000" stroke="#000" stroke-width="0.2">2.0</text>
<line x1="844.8" y1="675.9" x2="848.8" y2="675.9" stroke="#222" stroke-width="1.3"/>
<text x="838.5" y="680.7" class="sf" font-size="15.6" text-anchor="end" textLength="21.25" lengthAdjust="spacingAndGlyphs" fill="#000" stroke="#000" stroke-width="0.2">1.5</text>
<line x1="844.8" y1="788.7" x2="848.8" y2="788.7" stroke="#222" stroke-width="1.3"/>
<text x="838.5" y="793.5" class="sf" font-size="15.6" text-anchor="end" textLength="21.25" lengthAdjust="spacingAndGlyphs" fill="#000" stroke="#000" stroke-width="0.2">1.0</text>
<line x1="844.8" y1="901.7" x2="848.8" y2="901.7" stroke="#222" stroke-width="1.3"/>
<text x="838.5" y="906.5" class="sf" font-size="15.6" text-anchor="end" textLength="21.25" lengthAdjust="spacingAndGlyphs" fill="#000" stroke="#000" stroke-width="0.2">0.5</text>
<line x1="844.8" y1="1014.6" x2="848.8" y2="1014.6" stroke="#222" stroke-width="1.3"/>
<text x="838.5" y="1019.4" class="sf" font-size="15.6" text-anchor="end" textLength="21.25" lengthAdjust="spacingAndGlyphs" fill="#000" stroke="#000" stroke-width="0.2">0.0</text>
<line x1="1163.1" y1="1037.6" x2="1163.1" y2="1041.6" stroke="#222" stroke-width="1.3"/>
<text x="1163.3" y="1055" class="sf" font-size="16.2" text-anchor="middle" fill="#000" stroke="#000" stroke-width="0.2">0</text>
<text x="1160.5" y="1079.2" class="sf" font-size="21.5" text-anchor="middle" textLength="175.3" lengthAdjust="spacing" fill="#000" stroke="#000" stroke-width="0.2">Log<tspan font-size="14.2" dy="4.4">2</tspan><tspan dy="-4.4">(Fold Change)</tspan></text>
<text transform="translate(799.2 784.2) rotate(-90)" class="sf" font-size="22" text-anchor="middle" textLength="150" lengthAdjust="spacing" fill="#000" stroke="#000" stroke-width="0.2">−Log<tspan font-size="14.5" dy="4.5">10</tspan><tspan dy="-4.5">(P-value)</tspan></text>
<circle cx="1329.1" cy="950" r="2.9" fill="#d1202c"/>
<text x="1352.1" y="953.7" class="sf" font-size="16" textLength="40.9" lengthAdjust="spacing" fill="#000" stroke="#000" stroke-width="0.2">Up: 2</text>
<circle cx="1329.1" cy="973.3" r="2.9" fill="#1f7a1f"/>
<text x="1352.1" y="977" class="sf" font-size="16" textLength="62" lengthAdjust="spacing" fill="#000" stroke="#000" stroke-width="0.2">Down: 5</text>
<circle cx="1329.1" cy="996.6" r="2.9" fill="#c9c9c9"/>
<text x="1352.1" y="1000.3" class="sf" font-size="16" textLength="120.4" lengthAdjust="spacing" fill="#000" stroke="#000" stroke-width="0.2">Insignificant: 54</text>
<text transform="translate(783.6 528.2) scale(0.93 1)" class="pl">D</text>
</g>
<g>
<defs><linearGradient id="gE" x1="0" y1="1" x2="0" y2="0"><stop offset="0" stop-color="#f82818"/><stop offset="0.1" stop-color="#fa5020"/><stop offset="0.25" stop-color="#f88840"/><stop offset="0.3" stop-color="#e0a030"/><stop offset="0.4" stop-color="#a8d020"/><stop offset="0.5" stop-color="#60e818"/><stop offset="0.65" stop-color="#50e8a0"/><stop offset="0.75" stop-color="#20e8f0"/><stop offset="0.8" stop-color="#50c0f8"/><stop offset="0.9" stop-color="#8c8cf5"/><stop offset="1" stop-color="#b050f0"/></linearGradient></defs>
<circle cx="460.7" cy="1198.1" r="6.8" fill="#ec3114"/>
<circle cx="429.2" cy="1217.4" r="7.6" fill="#ee3518"/>
<circle cx="528.2" cy="1236.2" r="4.7" fill="#f04a28"/>
<circle cx="528.2" cy="1255.2" r="4.7" fill="#f04a28"/>
<circle cx="389.6" cy="1274.2" r="8.3" fill="#f2552c"/>
<circle cx="659.3" cy="1292.7" r="1.9" fill="#f06a3a"/>
<circle cx="659.3" cy="1311.8" r="1.9" fill="#f06a3a"/>
<circle cx="659.3" cy="1330.8" r="1.9" fill="#f06a3a"/>
<circle cx="659.3" cy="1349.5" r="1.9" fill="#f06a3a"/>
<circle cx="659.3" cy="1368.6" r="1.9" fill="#f06a3a"/>
<circle cx="393.8" cy="1387.4" r="6.8" fill="#f66a36"/>
<circle cx="377.9" cy="1406.6" r="7.8" fill="#f67a42"/>
<circle cx="373.6" cy="1425.3" r="7.8" fill="#ee9234"/>
<circle cx="461" cy="1444.3" r="2" fill="#bab436"/>
<circle cx="461" cy="1463.3" r="2" fill="#bab436"/>
<circle cx="461" cy="1481.9" r="2" fill="#bab436"/>
<circle cx="461" cy="1500.8" r="2" fill="#bab436"/>
<circle cx="461" cy="1519.7" r="2" fill="#bab436"/>
<circle cx="461" cy="1538.6" r="2" fill="#bab436"/>
<circle cx="393.8" cy="1557.5" r="2" fill="#7ccc38"/>
<rect x="359.8" y="1187" width="311.2" height="378.1" fill="none" stroke="#3c3c3c" stroke-width="1.2"/>
<line x1="356.2" y1="1198.1" x2="359.8" y2="1198.1" stroke="#333" stroke-width="1.2"/>
<line x1="356.2" y1="1217.4" x2="359.8" y2="1217.4" stroke="#333" stroke-width="1.2"/>
<line x1="356.2" y1="1236.2" x2="359.8" y2="1236.2" stroke="#333" stroke-width="1.2"/>
<line x1="356.2" y1="1255.2" x2="359.8" y2="1255.2" stroke="#333" stroke-width="1.2"/>
<line x1="356.2" y1="1274.2" x2="359.8" y2="1274.2" stroke="#333" stroke-width="1.2"/>
<line x1="356.2" y1="1292.7" x2="359.8" y2="1292.7" stroke="#333" stroke-width="1.2"/>
<line x1="356.2" y1="1311.8" x2="359.8" y2="1311.8" stroke="#333" stroke-width="1.2"/>
<line x1="356.2" y1="1330.8" x2="359.8" y2="1330.8" stroke="#333" stroke-width="1.2"/>
<line x1="356.2" y1="1349.5" x2="359.8" y2="1349.5" stroke="#333" stroke-width="1.2"/>
<line x1="356.2" y1="1368.6" x2="359.8" y2="1368.6" stroke="#333" stroke-width="1.2"/>
<line x1="356.2" y1="1387.4" x2="359.8" y2="1387.4" stroke="#333" stroke-width="1.2"/>
<line x1="356.2" y1="1406.6" x2="359.8" y2="1406.6" stroke="#333" stroke-width="1.2"/>
<line x1="356.2" y1="1425.3" x2="359.8" y2="1425.3" stroke="#333" stroke-width="1.2"/>
<line x1="356.2" y1="1444.3" x2="359.8" y2="1444.3" stroke="#333" stroke-width="1.2"/>
<line x1="356.2" y1="1463.3" x2="359.8" y2="1463.3" stroke="#333" stroke-width="1.2"/>
<line x1="356.2" y1="1481.9" x2="359.8" y2="1481.9" stroke="#333" stroke-width="1.2"/>
<line x1="356.2" y1="1500.8" x2="359.8" y2="1500.8" stroke="#333" stroke-width="1.2"/>
<line x1="356.2" y1="1519.7" x2="359.8" y2="1519.7" stroke="#333" stroke-width="1.2"/>
<line x1="356.2" y1="1538.6" x2="359.8" y2="1538.6" stroke="#333" stroke-width="1.2"/>
<line x1="356.2" y1="1557.5" x2="359.8" y2="1557.5" stroke="#333" stroke-width="1.2"/>
<text x="8.99" y="1196.9" class="sf" font-size="16.9" textLength="342.11" lengthAdjust="spacingAndGlyphs" fill="#000" stroke="#000" stroke-width="0.25">Alanine, aspartate and glutamate metabolism</text>
<text x="204.75" y="1216.4" class="sf" font-size="16.9" textLength="146.35" lengthAdjust="spacingAndGlyphs" fill="#000" stroke="#000" stroke-width="0.25">Mineral absorption</text>
<text x="175.41" y="1235.5" class="sf" font-size="16.9" textLength="175.69" lengthAdjust="spacingAndGlyphs" fill="#000" stroke="#000" stroke-width="0.25">Pyrimidine metabolism</text>
<text x="85.28" y="1255" class="sf" font-size="16.9" textLength="265.82" lengthAdjust="spacingAndGlyphs" fill="#000" stroke="#000" stroke-width="0.25">Pantothenate and CoA biosynthesis</text>
<text x="105.19" y="1274.1" class="sf" font-size="16.9" textLength="245.91" lengthAdjust="spacingAndGlyphs" fill="#000" stroke="#000" stroke-width="0.25">Protein digestion and absorption</text>
<text x="131.32" y="1293.4" class="sf" font-size="16.9" textLength="219.78" lengthAdjust="spacingAndGlyphs" fill="#000" stroke="#000" stroke-width="0.25">Selenocompound metabolism</text>
<text x="192.37" y="1312.9" class="sf" font-size="16.9" textLength="158.73" lengthAdjust="spacingAndGlyphs" fill="#000" stroke="#000" stroke-width="0.25">Serotonergic synapse</text>
<text x="179.33" y="1331.9" class="sf" font-size="16.9" textLength="171.77" lengthAdjust="spacingAndGlyphs" fill="#000" stroke="#000" stroke-width="0.25">Nucleotide metabolism</text>
<text x="205.9" y="1351.6" class="sf" font-size="16.9" textLength="145.2" lengthAdjust="spacingAndGlyphs" fill="#000" stroke="#000" stroke-width="0.25">Sulfur relay system</text>
<text x="173.6" y="1370.8" class="sf" font-size="16.9" textLength="177.5" lengthAdjust="spacingAndGlyphs" fill="#000" stroke="#000" stroke-width="0.25">Vitamin B6 metabolism</text>
<text x="166.11" y="1390" class="sf" font-size="16.9" textLength="184.99" lengthAdjust="spacingAndGlyphs" fill="#000" stroke="#000" stroke-width="0.25">Biosynthesis of cofactors</text>
<text x="71.18" y="1409.8" class="sf" font-size="16.9" textLength="279.92" lengthAdjust="spacingAndGlyphs" fill="#000" stroke="#000" stroke-width="0.25">Central carbon metabolism in cancer</text>
<text x="121.27" y="1429.1" class="sf" font-size="16.9" textLength="229.83" lengthAdjust="spacingAndGlyphs" fill="#000" stroke="#000" stroke-width="0.25">Aminoacyl−tRNA biosynthesis</text>
<text x="178.34" y="1448.1" class="sf" font-size="16.9" textLength="172.76" lengthAdjust="spacingAndGlyphs" fill="#000" stroke="#000" stroke-width="0.25">Glutamatergic synapse</text>
<text x="193.35" y="1467.2" class="sf" font-size="16.9" textLength="157.75" lengthAdjust="spacingAndGlyphs" fill="#000" stroke="#000" stroke-width="0.25">Nitrogen metabolism</text>
<text x="169.82" y="1486.4" class="sf" font-size="16.9" textLength="181.28" lengthAdjust="spacingAndGlyphs" fill="#000" stroke="#000" stroke-width="0.25">Tryptophan metabolism</text>
<text x="172.79" y="1505.7" class="sf" font-size="16.9" textLength="178.31" lengthAdjust="spacingAndGlyphs" fill="#000" stroke="#000" stroke-width="0.25">Propanoate metabolism</text>
<text x="40.98" y="1525" class="sf" font-size="16.9" textLength="310.12" lengthAdjust="spacingAndGlyphs" fill="#000" stroke="#000" stroke-width="0.25">Proximal tubule bicarbonate reclamation</text>
<text x="166.58" y="1544.6" class="sf" font-size="16.9" textLength="184.52" lengthAdjust="spacingAndGlyphs" fill="#000" stroke="#000" stroke-width="0.25">African trypanosomiasis</text>
<text x="142.4" y="1561" class="sf" font-size="16.9" textLength="208.7" lengthAdjust="spacingAndGlyphs" fill="#000" stroke="#000" stroke-width="0.25">Phenylalanine, tyrosine and</text>
<text x="170.44" y="1577.7" class="sf" font-size="16.9" textLength="180.66" lengthAdjust="spacingAndGlyphs" fill="#000" stroke="#000" stroke-width="0.25">tryptophan biosynthesis</text>
<rect x="166.7" y="1471.6" width="189.9" height="19.6" fill="none" stroke="#ee1010" stroke-width="1.6" stroke-dasharray="3.6 1.9"/>
<line x1="421.1" y1="1568.7" x2="421.1" y2="1571.9" stroke="#222" stroke-width="1.3"/>
<text x="421.1" y="1581.8" class="sf" text-anchor="middle" font-size="10" fill="#111">0.4</text>
<line x1="500.5" y1="1568.7" x2="500.5" y2="1571.9" stroke="#222" stroke-width="1.3"/>
<text x="500.5" y="1581.8" class="sf" text-anchor="middle" font-size="10" fill="#111">0.6</text>
<line x1="579.8" y1="1568.7" x2="579.8" y2="1571.9" stroke="#222" stroke-width="1.3"/>
<text x="579.8" y="1581.8" class="sf" text-anchor="middle" font-size="10" fill="#111">0.8</text>
<line x1="659.3" y1="1568.7" x2="659.3" y2="1571.9" stroke="#222" stroke-width="1.3"/>
<text x="659.3" y="1581.8" class="sf" text-anchor="middle" font-size="10" fill="#111">1.0</text>
<text x="516.8" y="1597" text-anchor="middle" font-size="12.7" fill="#444">Rich Factor</text>
<text x="686" y="1243.5" class="sf" font-size="12.6" fill="#111">P−value</text>
<rect x="685.4" y="1251.6" width="20.3" height="102.6" fill="url(#gE)"/>
<text x="713" y="1257.6" class="sf" font-size="9.8" fill="#111">1.00</text>
<text x="713" y="1282.55" class="sf" font-size="9.8" fill="#111">0.75</text>
<text x="713" y="1307.5" class="sf" font-size="9.8" fill="#111">0.50</text>
<text x="713" y="1332.45" class="sf" font-size="9.8" fill="#111">0.25</text>
<text x="713" y="1357.4" class="sf" font-size="9.8" fill="#111">0.00</text>
<text x="686" y="1390.9" class="sf" font-size="12.6" fill="#111">Count</text>
<circle cx="694" cy="1409.9" r="0.7" fill="#000"/>
<text x="713.2" y="1412.5" class="sf" font-size="9.4" fill="#111">1</text>
<circle cx="694" cy="1431.2" r="2.4" fill="#000"/>
<text x="713.2" y="1433.8" class="sf" font-size="9.4" fill="#111">2</text>
<circle cx="694" cy="1452.1" r="3.1" fill="#000"/>
<text x="713.2" y="1454.7" class="sf" font-size="9.4" fill="#111">3</text>
<circle cx="694" cy="1472.9" r="3.7" fill="#000"/>
<text x="713.2" y="1475.5" class="sf" font-size="9.4" fill="#111">4</text>
<circle cx="694" cy="1493.8" r="4.2" fill="#000"/>
<text x="713.2" y="1496.4" class="sf" font-size="9.4" fill="#111">5</text>
<circle cx="694" cy="1514.1" r="4.7" fill="#000"/>
<text x="713.2" y="1516.7" class="sf" font-size="9.4" fill="#111">6</text>
<text transform="translate(48.6 1135.2) scale(0.93 1)" class="pl">E</text>
</g>
<g>
<defs><linearGradient id="gF" x1="0" y1="1" x2="0" y2="0"><stop offset="0" stop-color="#f82818"/><stop offset="0.1" stop-color="#fa5020"/><stop offset="0.25" stop-color="#f88840"/><stop offset="0.3" stop-color="#e0a030"/><stop offset="0.4" stop-color="#a8d020"/><stop offset="0.5" stop-color="#60e818"/><stop offset="0.65" stop-color="#50e8a0"/><stop offset="0.75" stop-color="#20e8f0"/><stop offset="0.8" stop-color="#50c0f8"/><stop offset="0.9" stop-color="#8c8cf5"/><stop offset="1" stop-color="#b050f0"/></linearGradient></defs>
<circle cx="1455.8" cy="1212.7" r="2.3" fill="#e8402a"/>
<circle cx="1293" cy="1232.9" r="2.3" fill="#ea452c"/>
<circle cx="1293" cy="1253.9" r="2.3" fill="#ea482e"/>
<circle cx="1237.6" cy="1274.6" r="2.3" fill="#f0603e"/>
<circle cx="1185.6" cy="1295.5" r="2.3" fill="#c8b040"/>
<circle cx="1175.9" cy="1315.9" r="2.3" fill="#b4c83c"/>
<circle cx="1162.9" cy="1336.6" r="2.3" fill="#7ee050"/>
<circle cx="1162.9" cy="1357.2" r="2.3" fill="#74e058"/>
<circle cx="1156.2" cy="1378.1" r="2.3" fill="#60e48c"/>
<circle cx="1156.2" cy="1398.9" r="2.3" fill="#5ce69a"/>
<circle cx="1150" cy="1419.6" r="2.4" fill="#22e6d8"/>
<circle cx="1150" cy="1440.2" r="2.4" fill="#52d4ea"/>
<circle cx="1150" cy="1460.8" r="2.4" fill="#4ccae8"/>
<circle cx="1146.4" cy="1481.3" r="2.3" fill="#78b8ec"/>
<circle cx="1146.4" cy="1501.9" r="2.3" fill="#8c92e8"/>
<circle cx="1152.9" cy="1522.7" r="9.1" fill="#b04cf0"/>
<rect x="1132" y="1200.3" width="334.2" height="334.5" fill="none" stroke="#3c3c3c" stroke-width="1.2"/>
<line x1="1127.4" y1="1212.7" x2="1132" y2="1212.7" stroke="#333" stroke-width="1.2"/>
<line x1="1127.4" y1="1232.9" x2="1132" y2="1232.9" stroke="#333" stroke-width="1.2"/>
<line x1="1127.4" y1="1253.9" x2="1132" y2="1253.9" stroke="#333" stroke-width="1.2"/>
<line x1="1127.4" y1="1274.6" x2="1132" y2="1274.6" stroke="#333" stroke-width="1.2"/>
<line x1="1127.4" y1="1295.5" x2="1132" y2="1295.5" stroke="#333" stroke-width="1.2"/>
<line x1="1127.4" y1="1315.9" x2="1132" y2="1315.9" stroke="#333" stroke-width="1.2"/>
<line x1="1127.4" y1="1336.6" x2="1132" y2="1336.6" stroke="#333" stroke-width="1.2"/>
<line x1="1127.4" y1="1357.2" x2="1132" y2="1357.2" stroke="#333" stroke-width="1.2"/>
<line x1="1127.4" y1="1378.1" x2="1132" y2="1378.1" stroke="#333" stroke-width="1.2"/>
<line x1="1127.4" y1="1398.9" x2="1132" y2="1398.9" stroke="#333" stroke-width="1.2"/>
<line x1="1127.4" y1="1419.6" x2="1132" y2="1419.6" stroke="#333" stroke-width="1.2"/>
<line x1="1127.4" y1="1440.2" x2="1132" y2="1440.2" stroke="#333" stroke-width="1.2"/>
<line x1="1127.4" y1="1460.8" x2="1132" y2="1460.8" stroke="#333" stroke-width="1.2"/>
<line x1="1127.4" y1="1481.3" x2="1132" y2="1481.3" stroke="#333" stroke-width="1.2"/>
<line x1="1127.4" y1="1501.9" x2="1132" y2="1501.9" stroke="#333" stroke-width="1.2"/>
<line x1="1127.4" y1="1522.7" x2="1132" y2="1522.7" stroke="#333" stroke-width="1.2"/>
<text x="956.79" y="1216" class="sf" font-size="18.3" textLength="166.21" lengthAdjust="spacingAndGlyphs" fill="#000" stroke="#000" stroke-width="0.25" xml:space="preserve">Serotonergic synapse</text>
<text x="931.83" y="1237.3" class="sf" font-size="18.3" textLength="188.27" lengthAdjust="spacingAndGlyphs" fill="#000" stroke="#000" stroke-width="0.25" xml:space="preserve">Tryptophan metabolism</text>
<text x="930.81" y="1258.2" class="sf" font-size="18.3" textLength="192.69" lengthAdjust="spacingAndGlyphs" fill="#000" stroke="#000" stroke-width="0.25" xml:space="preserve">African trypanosomiasis</text>
<text x="739.97" y="1279.3" class="sf" font-size="16.8" textLength="383.03" lengthAdjust="spacingAndGlyphs" fill="#000" stroke="#000" stroke-width="0.25" xml:space="preserve">Phenylalanine, tyrosine and tryptophan  biosynthesis</text>
<text x="970.1" y="1302" class="sf" font-size="18.3" textLength="150.8" lengthAdjust="spacingAndGlyphs" fill="#000" stroke="#000" stroke-width="0.25" xml:space="preserve">Lysine degradation</text>
<text x="796.36" y="1322.3" class="sf" font-size="18.3" textLength="327.14" lengthAdjust="spacingAndGlyphs" fill="#000" stroke="#000" stroke-width="0.25" xml:space="preserve">Glycine, serine and threonine metabolism</text>
<text x="852.34" y="1342.9" class="sf" font-size="18.3" textLength="267.76" lengthAdjust="spacingAndGlyphs" fill="#000" stroke="#000" stroke-width="0.25" xml:space="preserve">2−Oxocarboxylic acid metabolism</text>
<text x="857.76" y="1363.9" class="sf" font-size="18.3" textLength="260.54" lengthAdjust="spacingAndGlyphs" fill="#000" stroke="#000" stroke-width="0.25" xml:space="preserve">Arginine and proline metabolism</text>
<text x="963.58" y="1383.8" class="sf" font-size="18.3" textLength="152.82" lengthAdjust="spacingAndGlyphs" fill="#000" stroke="#000" stroke-width="0.25" xml:space="preserve">Mineral absorption</text>
<text x="925.92" y="1402.5" class="sf" font-size="18.3" textLength="193.18" lengthAdjust="spacingAndGlyphs" fill="#000" stroke="#000" stroke-width="0.25" xml:space="preserve">Biosynthesis of cofactors</text>
<text x="911.89" y="1425.2" class="sf" font-size="18.3" textLength="209.81" lengthAdjust="spacingAndGlyphs" fill="#000" stroke="#000" stroke-width="0.25" xml:space="preserve">D−Amino acid metabolism</text>
<text x="827" y="1445" class="sf" font-size="18.3" textLength="293.1" lengthAdjust="spacingAndGlyphs" fill="#000" stroke="#000" stroke-width="0.25" xml:space="preserve">Central carbon metabolism in cancer</text>
<text x="879.45" y="1464.6" class="sf" font-size="18.3" textLength="240.65" lengthAdjust="spacingAndGlyphs" fill="#000" stroke="#000" stroke-width="0.25" xml:space="preserve">Aminoacyl−tRNA biosynthesis</text>
<text x="861.61" y="1485.1" class="sf" font-size="18.3" textLength="257.49" lengthAdjust="spacingAndGlyphs" fill="#000" stroke="#000" stroke-width="0.25" xml:space="preserve">Protein digestion and absorption</text>
<text x="904.3" y="1508.6" class="sf" font-size="18.3" textLength="215.8" lengthAdjust="spacingAndGlyphs" fill="#000" stroke="#000" stroke-width="0.25" xml:space="preserve">Biosynthesis of amino acids</text>
<text x="963.84" y="1527.1" class="sf" font-size="18.3" textLength="158.36" lengthAdjust="spacingAndGlyphs" fill="#000" stroke="#000" stroke-width="0.25" xml:space="preserve">Metabolic pathways</text>
<rect x="924.1" y="1219.9" width="200.2" height="22.6" fill="none" stroke="#ee1010" stroke-width="1.6" stroke-dasharray="3.6 1.9"/>
<line x1="1211.8" y1="1534.8" x2="1211.8" y2="1538.4" stroke="#333" stroke-width="1.2"/>
<text x="1211.8" y="1550.8" text-anchor="middle" font-size="11.6" fill="#111">0.25</text>
<line x1="1293" y1="1534.8" x2="1293" y2="1538.4" stroke="#333" stroke-width="1.2"/>
<text x="1293" y="1550.8" text-anchor="middle" font-size="11.6" fill="#111">0.50</text>
<line x1="1374.4" y1="1534.8" x2="1374.4" y2="1538.4" stroke="#333" stroke-width="1.2"/>
<text x="1374.4" y="1550.8" text-anchor="middle" font-size="11.6" fill="#111">0.75</text>
<line x1="1455.8" y1="1534.8" x2="1455.8" y2="1538.4" stroke="#333" stroke-width="1.2"/>
<text x="1455.8" y="1550.8" text-anchor="middle" font-size="11.6" fill="#111">1.00</text>
<text x="1301.7" y="1567.6" text-anchor="middle" font-size="14" fill="#111">Rich Factor</text>
<text x="1476.3" y="1251.6" class="sf" font-size="13.8" fill="#111">P−value</text>
<rect x="1475.4" y="1260.4" width="22.3" height="114.8" fill="url(#gF)"/>
<line x1="1475.4" y1="1263" x2="1479.8" y2="1263" stroke="#fff" stroke-width="0.8" stroke-opacity="0.7"/>
<line x1="1493.3" y1="1263" x2="1497.7" y2="1263" stroke="#fff" stroke-width="0.8" stroke-opacity="0.7"/>
<line x1="1475.4" y1="1291.2" x2="1479.8" y2="1291.2" stroke="#fff" stroke-width="0.8" stroke-opacity="0.7"/>
<line x1="1493.3" y1="1291.2" x2="1497.7" y2="1291.2" stroke="#fff" stroke-width="0.8" stroke-opacity="0.7"/>
<line x1="1475.4" y1="1319.4" x2="1479.8" y2="1319.4" stroke="#fff" stroke-width="0.8" stroke-opacity="0.7"/>
<line x1="1493.3" y1="1319.4" x2="1497.7" y2="1319.4" stroke="#fff" stroke-width="0.8" stroke-opacity="0.7"/>
<line x1="1475.4" y1="1347.6" x2="1479.8" y2="1347.6" stroke="#fff" stroke-width="0.8" stroke-opacity="0.7"/>
<line x1="1493.3" y1="1347.6" x2="1497.7" y2="1347.6" stroke="#fff" stroke-width="0.8" stroke-opacity="0.7"/>
<text x="1505.4" y="1267" class="sf" font-size="11" fill="#111">1.00</text>
<text x="1505.4" y="1295.15" class="sf" font-size="11" fill="#111">0.75</text>
<text x="1505.4" y="1323.3" class="sf" font-size="11" fill="#111">0.50</text>
<text x="1505.4" y="1351.45" class="sf" font-size="11" fill="#111">0.25</text>
<text x="1505.4" y="1379.6" class="sf" font-size="11" fill="#111">0.00</text>
<text x="1476.3" y="1417.8" class="sf" font-size="13.8" fill="#111">Count</text>
<circle cx="1484.6" cy="1439" r="1.1" fill="#000"/>
<text x="1505.4" y="1442" class="sf" font-size="11" fill="#111">1</text>
<circle cx="1484.6" cy="1463.3" r="4.3" fill="#000"/>
<text x="1505.4" y="1466.3" class="sf" font-size="11" fill="#111">2</text>
<circle cx="1484.6" cy="1487.1" r="5.5" fill="#000"/>
<text x="1505.4" y="1490.1" class="sf" font-size="11" fill="#111">3</text>
<text transform="translate(794.2 1133.4) scale(0.93 1)" class="pl">F</text>
</g>
</svg>
</body>
</html>
